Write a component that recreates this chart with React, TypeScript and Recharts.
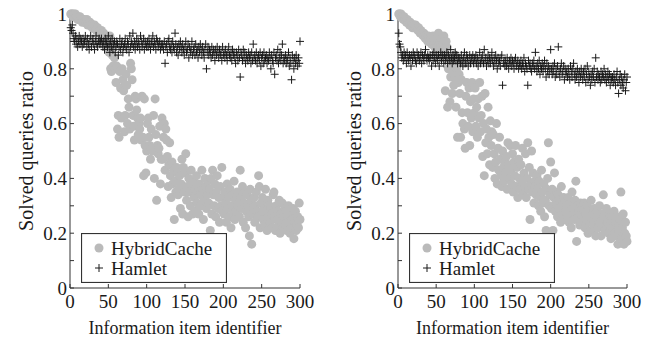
import { Legend, Scatter, ScatterChart, XAxis, YAxis } from "recharts"

const xTicks = [0, 50, 100, 150, 200, 250, 300]
const yTicks = [0, 0.1, 0.2, 0.3, 0.4, 0.5, 0.6, 0.7, 0.8, 0.9, 1]

// solved queries ratio (in %) for information items 1..300, left panel
const leftHybridCache = [
  100, 100, 100, 99, 100, 99, 100, 99, 99, 98, 99, 98, 99, 98, 98, 97, 98, 98, 97, 97,
  97, 98, 96, 97, 96, 97, 96, 96, 95, 96, 95, 96, 95, 94, 95, 95, 94, 93, 94, 93,
  94, 93, 92, 93, 91, 92, 90, 91, 89, 88, 86, 92, 80, 79, 85, 81, 89, 84, 80, 75,
  81, 58, 63, 55, 79, 73, 62, 80, 76, 72, 57, 63, 78, 74, 60, 69, 66, 58, 82, 80,
  76, 63, 59, 54, 70, 69, 65, 62, 56, 60, 58, 62, 54, 70, 55, 41, 69, 52, 42, 50,
  60, 62, 55, 52, 47, 58, 51, 50, 63, 40, 69, 56, 32, 52, 49, 51, 59, 38, 47, 62,
  47, 55, 60, 43, 58, 54, 48, 37, 45, 53, 41, 33, 46, 38, 43, 25, 39, 35, 44, 42,
  34, 36, 41, 29, 38, 47, 27, 44, 35, 42, 49, 32, 37, 26, 40, 35, 30, 43, 38, 27,
  39, 33, 36, 28, 41, 31, 35, 27, 38, 34, 30, 43, 36, 25, 32, 40, 37, 29, 34, 39,
  31, 36, 21, 40, 27, 43, 34, 30, 38, 26, 35, 41, 29, 33, 24, 37, 30, 44, 28, 33,
  27, 35, 31, 24, 38, 29, 33, 26, 36, 22, 30, 34, 27, 39, 25, 32, 28, 35, 30, 31,
  26, 43, 33, 29, 37, 24, 31, 35, 22, 28, 34, 30, 26, 19, 36, 32, 16, 27, 29, 33,
  24, 30, 35, 28, 26, 41, 37, 22, 31, 27, 33, 25, 29, 23, 36, 28, 21, 32, 26, 30,
  24, 29, 27, 22, 34, 35, 26, 21, 30, 25, 28, 23, 32, 20, 27, 24, 31, 22, 26, 29,
  23, 28, 21, 26, 30, 24, 20, 27, 22, 25, 29, 18, 24, 28, 21, 23, 26, 22, 31, 25,
]

const leftHamlet = [
  95, 94, 96, 93, 91, 90, 92, 89, 91, 88, 90, 92, 89, 91, 90, 88, 91, 89, 90, 92,
  90, 88, 91, 89, 87, 90, 92, 88, 90, 91, 89, 87, 90, 92, 89, 88, 90, 91, 89, 90,
  91, 89, 88, 90, 87, 91, 89, 90, 88, 92, 89, 86, 90, 88, 91, 87, 89, 90, 86, 88,
  90, 89, 85, 88, 91, 87, 89, 90, 86, 88, 89, 91, 88, 87, 90, 89, 86, 92, 88, 90,
  89, 93, 88, 90, 87, 89, 91, 88, 90, 89, 87, 92, 90, 88, 89, 91, 87, 90, 89, 88,
  90, 88, 91, 89, 87, 90, 89, 92, 88, 90, 89, 87, 91, 90, 88, 89, 90, 87, 89, 88,
  89, 87, 90, 82, 88, 89, 86, 90, 91, 88, 87, 89, 86, 90, 88, 87, 93, 89, 86, 88,
  85, 89, 87, 90, 88, 86, 89, 87, 85, 88, 90, 86, 87, 89, 84, 88, 86, 87, 90, 85,
  87, 88, 85, 89, 86, 87, 84, 88, 86, 89, 87, 85, 88, 86, 84, 87, 89, 80, 86, 88,
  85, 87, 86, 84, 88, 85, 87, 86, 83, 87, 85, 88, 86, 84, 87, 85, 86, 83, 88, 85,
  86, 84, 87, 85, 83, 86, 88, 85, 84, 86, 83, 87, 85, 86, 84, 82, 86, 85, 83, 87,
  84, 77, 86, 85, 83, 87, 84, 86, 82, 85, 84, 83, 86, 84, 85, 82, 86, 83, 89, 84,
  85, 83, 86, 82, 84, 85, 83, 86, 81, 84, 85, 82, 86, 83, 84, 85, 82, 84, 83, 86,
  84, 80, 85, 83, 82, 86, 78, 84, 85, 83, 87, 82, 84, 86, 83, 85, 89, 82, 84, 83,
  85, 82, 84, 83, 86, 81, 84, 82, 76, 85, 83, 80, 84, 82, 85, 83, 81, 84, 82, 90,
]

// right panel
const rightHybridCache = [
  100, 100, 99, 100, 99, 99, 98, 99, 98, 98, 97, 98, 97, 97, 96, 97, 96, 96, 95, 96,
  96, 95, 96, 95, 95, 94, 95, 94, 93, 94, 93, 93, 92, 93, 92, 91, 92, 91, 90, 92,
  91, 90, 91, 89, 90, 92, 89, 88, 90, 87, 91, 88, 93, 89, 90, 88, 91, 87, 89, 92,
  86, 72, 90, 88, 66, 80, 84, 68, 77, 82, 71, 79, 74, 85, 77, 66, 80, 55, 75, 78,
  71, 55, 76, 64, 60, 82, 58, 51, 70, 75, 64, 59, 73, 52, 68, 62, 75, 57, 69, 64,
  73, 59, 66, 55, 69, 62, 75, 57, 63, 70, 48, 60, 41, 71, 53, 58, 49, 66, 55, 45,
  61, 52, 57, 44, 56, 49, 40, 46, 60, 38, 51, 43, 55, 47, 41, 37, 50, 44, 39, 46,
  42, 48, 36, 53, 45, 40, 52, 43, 38, 49, 35, 46, 41, 52, 37, 44, 33, 47, 40, 36,
  45, 39, 51, 34, 42, 37, 49, 33, 40, 53, 36, 44, 25, 38, 50, 35, 42, 31, 39, 37,
  34, 41, 36, 30, 39, 33, 28, 43, 35, 31, 38, 26, 32, 21, 36, 40, 53, 30, 34, 46,
  29, 36, 21, 33, 42, 28, 31, 35, 26, 34, 29, 32, 24, 37, 30, 27, 33, 25, 31, 28,
  30, 26, 33, 24, 28, 31, 22, 35, 27, 29, 25, 32, 39, 17, 30, 26, 28, 23, 31, 27,
  24, 29, 26, 31, 22, 27, 25, 30, 20, 28, 24, 26, 32, 21, 27, 23, 29, 25, 19, 26,
  28, 22, 25, 30, 24, 19, 27, 23, 34, 26, 21, 25, 29, 22, 24, 20, 27, 23, 18, 26,
  22, 25, 28, 20, 24, 19, 26, 16, 23, 21, 25, 35, 18, 22, 27, 16, 20, 24, 19, 17,
]

const rightHamlet = [
  93, 89, 88, 86, 84, 85, 83, 86, 84, 85, 82, 86, 84, 83, 85, 84, 81, 85, 83, 86,
  84, 85, 83, 82, 86, 84, 85, 83, 84, 86, 82, 85, 84, 83, 85, 87, 84, 83, 85, 84,
  83, 85, 84, 81, 85, 83, 86, 84, 82, 85, 84, 83, 85, 81, 84, 86, 83, 85, 84, 82,
  85, 83, 84, 86, 82, 85, 84, 83, 87, 84, 82, 85, 83, 84, 86, 83, 85, 82, 84, 83,
  84, 82, 85, 83, 81, 84, 86, 83, 82, 85, 84, 81, 83, 85, 82, 84, 83, 85, 82, 84,
  83, 85, 82, 84, 81, 83, 86, 82, 84, 83, 85, 82, 87, 83, 84, 81, 83, 85, 82, 84,
  82, 84, 86, 83, 81, 84, 82, 85, 83, 80, 84, 82, 83, 81, 84, 85, 74, 82, 83, 81,
  83, 81, 84, 82, 80, 83, 82, 84, 81, 83, 82, 80, 83, 84, 81, 82, 83, 80, 82, 81,
  83, 80, 82, 81, 84, 79, 82, 81, 80, 74, 83, 81, 82, 80, 79, 82, 81, 83, 80, 86,
  81, 79, 82, 80, 83, 78, 81, 80, 82, 79, 81, 83, 80, 77, 82, 79, 81, 78, 80, 87,
  80, 78, 81, 79, 82, 77, 80, 78, 81, 88, 79, 77, 80, 82, 78, 79, 81, 76, 80, 78,
  79, 77, 80, 78, 76, 81, 79, 77, 80, 82, 78, 76, 79, 77, 80, 78, 75, 79, 77, 80,
  78, 76, 79, 77, 80, 75, 78, 81, 76, 79, 77, 74, 78, 76, 79, 77, 80, 75, 84, 77,
  79, 76, 78, 77, 75, 79, 76, 78, 77, 80, 76, 78, 75, 77, 79, 76, 78, 74, 77, 76,
  77, 75, 78, 76, 74, 77, 79, 75, 71, 76, 78, 74, 77, 75, 73, 76, 78, 72, 75, 77,
]

const font = "'Liberation Serif', 'Times New Roman', serif"
const ink = "#1a1a1a"
const dotGray = "#bababa"

const toPoints = (vals: number[]) => vals.map((v, i) => ({ item: i + 1, ratio: v / 100 }))

// only every other tick (0, 0.2, ...) gets a label
const yTickLabel = (v: number) => {
  const t = Math.round(v * 10)
  return t % 2 === 0 ? String(t / 10) : ""
}

function Dot(props: any) {
  return <circle cx={props.cx} cy={props.cy} r={4.5} fill={dotGray} />
}

function Plus(props: any) {
  const { cx, cy } = props
  return (
    <path
      d={`M${cx - 4},${cy}H${cx + 4}M${cx},${cy - 4}V${cy + 4}`}
      stroke={ink}
      strokeWidth={1}
      fill="none"
    />
  )
}

function LegendBox(props: any) {
  // circles (HybridCache) first, like the original key
  const payload = [...(props.payload || [])].sort((a: any, b: any) =>
    a.type === "circle" ? -1 : b.type === "circle" ? 1 : 0
  )
  return (
    <svg width={146} height={50} style={{ display: "block" }}>
      <rect x={0.5} y={0.5} width={145} height={49} fill="#fff" stroke="#333" strokeWidth={1.2} />
      {payload.map((entry: any, i: number) => {
        const cy = 15 + i * 20
        return (
          <g key={entry.value}>
            {entry.type === "circle" ? (
              <circle cx={18} cy={cy} r={4.5} fill={dotGray} />
            ) : (
              <path d={`M14,${cy}H22M18,${cy - 4}V${cy + 4}`} stroke={ink} fill="none" />
            )}
            <text x={30} y={cy + 6.5} fontSize={19} fontFamily={font} fill={ink}>
              {entry.value}
            </text>
          </g>
        )
      })}
    </svg>
  )
}

function Panel({ hybrid, hamlet, marginLeft, marginRight }: any) {
  const hc = toPoints(hybrid)
  const hm = toPoints(hamlet)
  const plotLeft = marginLeft + 60
  return (
    <ScatterChart
      width={326}
      height={342}
      margin={{ top: 14, right: marginRight, bottom: 0, left: marginLeft }}
      style={{ fontFamily: font }}
    >
      <XAxis
        xAxisId="b"
        dataKey="item"
        type="number"
        domain={[0, 300]}
        ticks={xTicks}
        interval={0}
        height={54}
        tickSize={-4}
        tickMargin={11}
        stroke="#333"
        tick={{ fill: ink, fontSize: 19, fontFamily: font }}
        label={{
          value: "Information item identifier",
          position: "insideBottom",
          offset: 8,
          fill: ink,
          fontSize: 18,
          fontFamily: font,
        }}
      />
      <XAxis xAxisId="t" type="number" domain={[0, 300]} orientation="top" height={0} tick={false} tickLine={false} stroke="#333" />
      <YAxis
        yAxisId="l"
        dataKey="ratio"
        type="number"
        domain={[0, 1]}
        ticks={yTicks}
        interval={0}
        width={60}
        tickSize={-4}
        tickMargin={7}
        tickFormatter={yTickLabel}
        stroke="#333"
        tick={{ fill: ink, fontSize: 19, fontFamily: font }}
        label={{
          value: "Solved queries ratio",
          angle: -90,
          position: "insideLeft",
          offset: 16,
          fill: ink,
          fontSize: 20,
          fontFamily: font,
          style: { textAnchor: "middle" },
        }}
      />
      <YAxis
        yAxisId="r"
        orientation="right"
        type="number"
        domain={[0, 1]}
        ticks={yTicks}
        interval={0}
        width={0}
        tickSize={-4}
        tick={() => null}
        stroke="#333"
      />
      <Scatter
        name="HybridCache"
        data={hc}
        xAxisId="b"
        yAxisId="l"
        legendType="circle"
        shape={Dot}
        isAnimationActive={false}
      />
      <Scatter
        name="Hamlet"
        data={hm}
        xAxisId="b"
        yAxisId="l"
        legendType="cross"
        shape={Plus}
        isAnimationActive={false}
      />
      <Legend
        layout="horizontal"
        verticalAlign="middle"
        content={LegendBox}
        wrapperStyle={{ left: plotLeft + 11, top: 233, width: 146, height: 50 }}
      />
    </ScatterChart>
  )
}

export default function App() {
  return (
    <div style={{ position: "absolute", left: 0, top: 0, width: 652, height: 342, background: "#fff", display: "flex" }}>
      <Panel hybrid={leftHybridCache} hamlet={leftHamlet} marginLeft={10} marginRight={26} />
      <Panel hybrid={rightHybridCache} hamlet={rightHamlet} marginLeft={12} marginRight={25} />
    </div>
  )
}
